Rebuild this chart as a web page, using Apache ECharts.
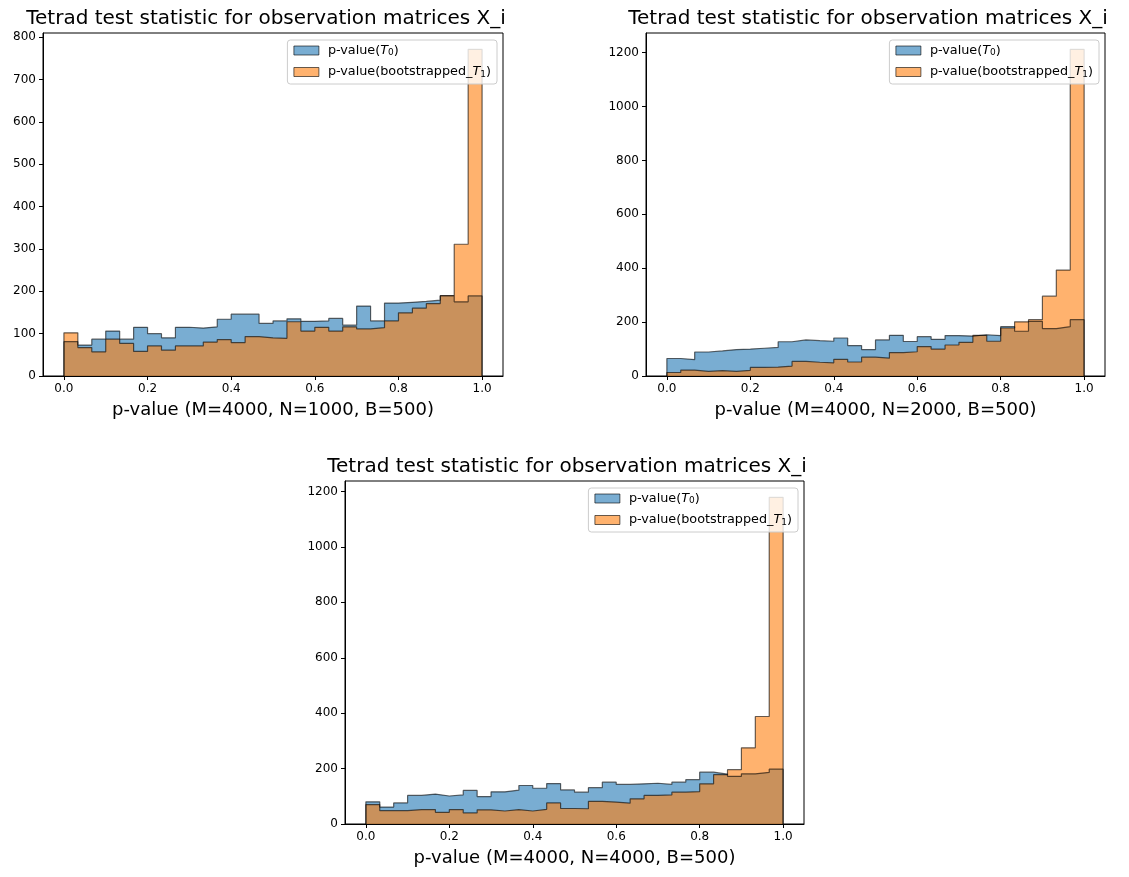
<!DOCTYPE html>
<html>
<head>
<meta charset="utf-8">
<script src="https://cdn.jsdelivr.net/npm/echarts@6/dist/echarts.min.js"></script>
<style>
  html, body { margin: 0; padding: 0; background: #fff; }
  #chart { width: 1129px; height: 877px; }
</style>
</head>
<body>
<div id="chart"></div>
<script>
// Histogram counts, 30 equal-width bins over p in [0, 1]
const countsT0_N1000   = [81, 73, 87, 106, 87, 115, 100, 90, 115, 113, 116, 134, 146, 146, 124,
                          130, 135, 129, 130, 136, 120, 165, 130, 172, 174, 176, 179, 189, 175, 189];
const countsBoot_N1000 = [102, 67, 57, 87, 77, 58, 71, 61, 71, 71, 80, 86, 79, 93, 90,
                          89, 128, 106, 115, 106, 116, 111, 114, 130, 149, 160, 171, 190, 311, 771];

const countsT0_N2000   = [65, 61, 89, 93, 98, 100, 103, 106, 127, 134, 131, 129, 141, 113, 98,
                          134, 151, 128, 146, 136, 150, 148, 153, 150, 183, 166, 203, 176, 183, 209];
const countsBoot_N2000 = [13, 22, 17, 20, 17, 21, 32, 33, 37, 54, 51, 49, 62, 52, 70,
                          66, 87, 90, 109, 100, 115, 125, 151, 129, 178, 201, 209, 296, 393, 1212];

const countsT0_N4000   = [80, 61, 76, 103, 108, 101, 105, 121, 99, 116, 122, 139, 129, 146, 123,
                          115, 131, 151, 143, 145, 147, 143, 151, 160, 187, 180, 172, 181, 186, 198];
const countsBoot_N4000 = [70, 48, 48, 52, 52, 42, 52, 40, 51, 47, 52, 47, 53, 76, 56,
                          55, 82, 79, 75, 91, 103, 105, 115, 117, 145, 178, 196, 275, 388, 1179];

// Tick labels
const xTicks = [0, 0.2, 0.4, 0.6, 0.8, 1.0];
const yTicks_N1000 = [0, 100, 200, 300, 400, 500, 600, 700, 800];
const yTicks_N2000 = [0, 200, 400, 600, 800, 1000, 1200];
const yTicks_N4000 = [0, 200, 400, 600, 800, 1000, 1200];

// Text
const panelTitle = 'Tetrad test statistic for observation matrices X_i';
const xLabels = [
  'p-value (M=4000, N=1000, B=500)',
  'p-value (M=4000, N=2000, B=500)',
  'p-value (M=4000, N=4000, B=500)'
];
const NAME_T0 = 'p-value(T0)';
const NAME_BOOT = 'p-value(bootstrapped_T1)';

const FONT = 'DejaVu Sans';
const BLUE = '#1f77b4';
const ORANGE = '#ff7f0e';

// Panel placement
const panels = [
  { grid: { left: 43, top: 33, width: 460, height: 343 }, titleX: 266, titleY: 9,
    legend: { right: 632, top: 40 }, t0: countsT0_N1000, boot: countsBoot_N1000, yTicks: yTicks_N1000, xLabel: xLabels[0] },
  { grid: { left: 646, top: 33, width: 459, height: 343 }, titleX: 868, titleY: 9,
    legend: { right: 30, top: 40 }, t0: countsT0_N2000, boot: countsBoot_N2000, yTicks: yTicks_N2000, xLabel: xLabels[1] },
  { grid: { left: 345, top: 481, width: 459, height: 343 }, titleX: 567, titleY: 457,
    legend: { right: 331, top: 488 }, t0: countsT0_N4000, boot: countsBoot_N4000, yTicks: yTicks_N4000, xLabel: xLabels[2] }
];

// Turn bin counts into the outline of a filled step histogram
function stepOutline(counts) {
  const n = counts.length;
  const pts = [[0, 0]];
  counts.forEach((c, i) => pts.push([i / n, c]));
  pts.push([1, counts[n - 1]]);
  pts.push([1, 0]);
  return pts;
}

const legendRich = {
  n: { fontFamily: FONT, fontSize: 12.8, lineHeight: 14, color: '#000' },
  i: { fontFamily: FONT, fontSize: 12.8, lineHeight: 14, fontStyle: 'italic', color: '#000' },
  s: { fontFamily: FONT, fontSize: 9, lineHeight: 8, verticalAlign: 'bottom', color: '#000' }
};
function legendText(name) {
  return name === NAME_T0
    ? '{n|p-value(}{i|T}{s|0}{n|)}'
    : '{n|p-value(bootstrapped_}{i|T}{s|1}{n|)}';
}

const option = {
  animation: false,
  backgroundColor: '#fff',
  title: [], grid: [], xAxis: [], yAxis: [], legend: [], series: []
};

panels.forEach((p, k) => {
  option.title.push({
    text: panelTitle,
    left: p.titleX, top: p.titleY, textAlign: 'center', padding: 0,
    textStyle: { fontFamily: FONT, fontSize: 20, fontWeight: 'normal', color: '#000' }
  });
  option.grid.push(Object.assign({
    show: true, borderColor: '#000', borderWidth: 1, backgroundColor: 'transparent', containLabel: false
  }, p.grid));
  option.xAxis.push({
    type: 'value', gridIndex: k, min: -0.05, max: 1.05,
    name: p.xLabel, nameLocation: 'middle', nameGap: 25,
    nameTextStyle: { fontFamily: FONT, fontSize: 18, color: '#000' },
    axisLine: { show: true, onZero: false, lineStyle: { color: '#000', width: 1 } },
    axisTick: { show: true, length: 4, customValues: xTicks, lineStyle: { color: '#000', width: 1 } },
    axisLabel: { customValues: xTicks, margin: 7, fontFamily: FONT, fontSize: 12, color: '#000',
                 formatter: v => v.toFixed(1) },
    splitLine: { show: false }
  });
  const yMax = Math.max(...p.t0, ...p.boot) * 1.05;
  option.yAxis.push({
    type: 'value', gridIndex: k, min: 0, max: yMax,
    axisLine: { show: true, onZero: false, lineStyle: { color: '#000', width: 1 } },
    axisTick: { show: true, length: 4, customValues: p.yTicks, lineStyle: { color: '#000', width: 1 } },
    axisLabel: { customValues: p.yTicks, margin: 7, fontFamily: FONT, fontSize: 12, color: '#000',
                 formatter: v => String(Math.round(v)) },
    splitLine: { show: false }
  });
  option.legend.push({
    orient: 'vertical', right: p.legend.right, top: p.legend.top,
    selectedMode: false,
    backgroundColor: 'rgba(255,255,255,0.8)', borderColor: '#cccccc', borderWidth: 1, borderRadius: 3,
    padding: [4, 6, 5, 6], itemGap: 8, itemWidth: 25, itemHeight: 9,
    textStyle: { fontFamily: FONT, fontSize: 12.8, color: '#000', padding: [0, 0, 0, 4], rich: legendRich },
    formatter: legendText,
    data: [
      { name: NAME_T0, icon: 'rect',
        itemStyle: { color: BLUE, borderColor: '#000', borderWidth: 1, opacity: 0.6 } },
      { name: NAME_BOOT, icon: 'rect',
        itemStyle: { color: ORANGE, borderColor: '#000', borderWidth: 1, opacity: 0.6 } }
    ]
  });
  [[NAME_T0, p.t0, BLUE], [NAME_BOOT, p.boot, ORANGE]].forEach(([name, counts, color]) => {
    option.series.push({
      type: 'line', name: name, xAxisIndex: k, yAxisIndex: k,
      data: stepOutline(counts), step: 'end', symbol: 'none', silent: true,
      itemStyle: { color: color },
      lineStyle: { color: '#000', opacity: 0.6, width: 1.2 },
      areaStyle: { color: color, opacity: 0.6, origin: 'start' }
    });
  });
});

const chart = echarts.init(document.getElementById('chart'), null, { renderer: 'canvas' });
chart.setOption(option);
</script>
</body>
</html>
